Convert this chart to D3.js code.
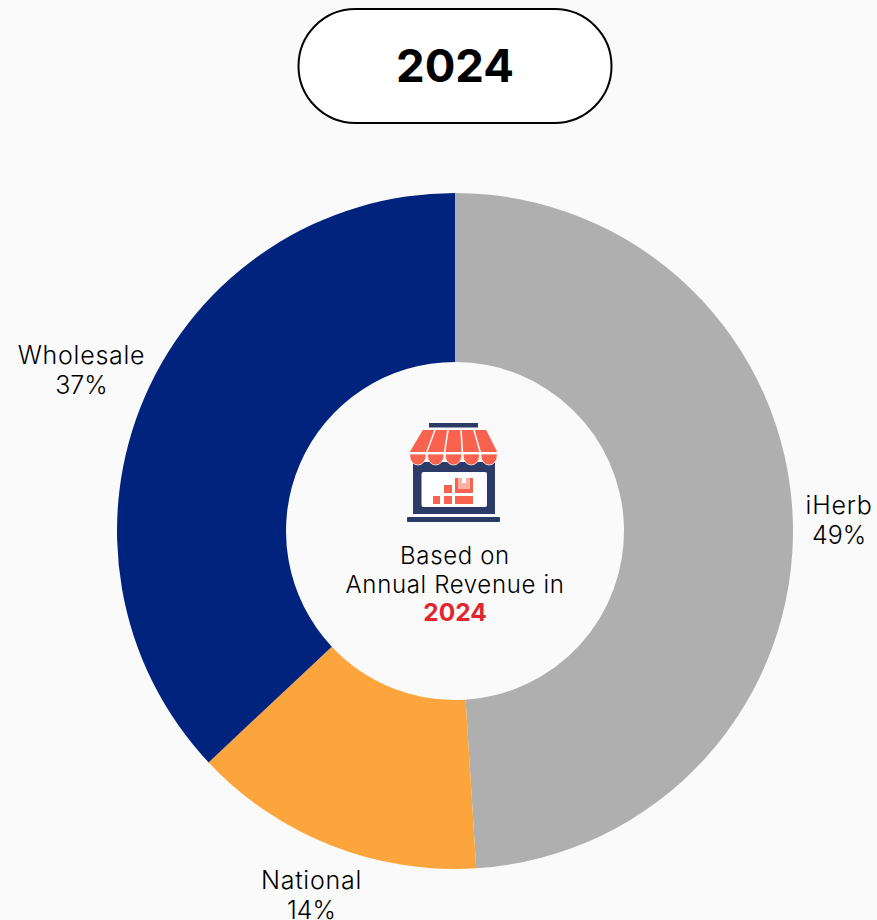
<!DOCTYPE html>
<html><head><meta charset="utf-8">
<script src="https://cdn.jsdelivr.net/npm/d3@7"></script>
<style>html,body{margin:0;padding:0;background:#fafafa;overflow:hidden}svg{display:block}text{font-family:Inter,sans-serif}</style>
</head><body><svg id="c" width="877" height="920"></svg>
<script>
const categories=["iHerb","National","Wholesale"];
const values=[49,14,37];
const colors=["#afafaf","#fca53c","#00237d"];
const title="2024";
const centerLines=["Based on","Annual Revenue in"];
const centerYear="2024";
const labelPos=[[839,506],[311.5,881],[81.5,356]];

const svg=d3.select("#c");
const cx=455,cy=531,R=338,r=169;
svg.append("rect").attr("x",298.5).attr("y",9).attr("width",313).attr("height",114).attr("rx",57)
  .attr("fill","#fff").attr("stroke","#000").attr("stroke-width",2);
svg.append("text").attr("x",455).attr("y",81.5).attr("text-anchor","middle")
  .attr("font-size",45.5).attr("font-weight",700).attr("fill","#000").text(title);

const pie=d3.pie().sort(null).value(d=>d)(values);
const arc=d3.arc().innerRadius(r).outerRadius(R);
const g=svg.append("g").attr("transform",`translate(${cx},${cy})`);
g.selectAll("path").data(pie).join("path").attr("d",arc).attr("fill",(d,i)=>colors[i]);

categories.forEach((c,i)=>{
  const t=svg.append("text").attr("text-anchor","middle").attr("font-size",25).attr("font-weight",300).attr("fill","#000");
  t.append("tspan").attr("x",labelPos[i][0]).attr("y",labelPos[i][1]+8).attr("letter-spacing",0.75).text(c);
  t.append("tspan").attr("x",labelPos[i][0]).attr("y",labelPos[i][1]+38).text(values[i]+"%");
});

centerLines.forEach((l,i)=>svg.append("text").attr("x",455).attr("y",564+i*28.5).attr("text-anchor","middle")
  .attr("font-size",24).attr("font-weight",300).attr("letter-spacing",0.65).attr("fill","#000").text(l));
svg.append("text").attr("x",455).attr("y",621).attr("text-anchor","middle")
  .attr("font-size",24.5).attr("font-weight",700).attr("fill","#e1262f").text(centerYear);

// shop icon
const navy="#2b3a67",coral="#f9624e";
const ic=svg.append("g");
ic.append("rect").attr("x",429).attr("y",423).attr("width",49).attr("height",4.5).attr("fill",navy);
ic.append("rect").attr("x",413).attr("y",462).attr("width",82).attr("height",52).attr("fill",navy);
ic.append("rect").attr("x",421.5).attr("y",472).attr("width",65.5).attr("height",35).attr("rx",2).attr("fill","#fff");
ic.append("rect").attr("x",407).attr("y",517).attr("width",93).attr("height",5).attr("rx",1).attr("fill",navy);
const n=5,tl=422,tr=487,bl=409,br=498,ty=430,my=452;
for(let i=0;i<n;i++){
  const a=tl+(tr-tl)*i/n+0.8,b=tl+(tr-tl)*(i+1)/n-0.8,c=bl+(br-bl)*(i+1)/n-0.8,d=bl+(br-bl)*i/n+0.8;
  ic.append("path").attr("d",`M${a},${ty}L${b},${ty}L${c},${my}L${d},${my}Z`).attr("fill",coral);
  const w=c-d;
  ic.append("path").attr("d",`M${d},${my+2}L${c},${my+2}L${c},${my+4}A${w/2},${9} 0 0 1 ${d},${my+4}Z`)
    .attr("fill",coral).attr("stroke","#fafafa").attr("stroke-width",0.8);
}
[[433,496,7,8],[444,496,8,8],[444,485,8,8],[455,496,18,8],[455,478,18,15]].forEach(b=>
  ic.append("rect").attr("x",b[0]).attr("y",b[1]).attr("width",b[2]).attr("height",b[3]).attr("fill",coral));
ic.append("rect").attr("x",458).attr("y",478).attr("width",12).attr("height",11).attr("fill","#fbb0a5");
ic.append("rect").attr("x",462).attr("y",478).attr("width",4).attr("height",5).attr("fill","#fff");
</script></body></html>
